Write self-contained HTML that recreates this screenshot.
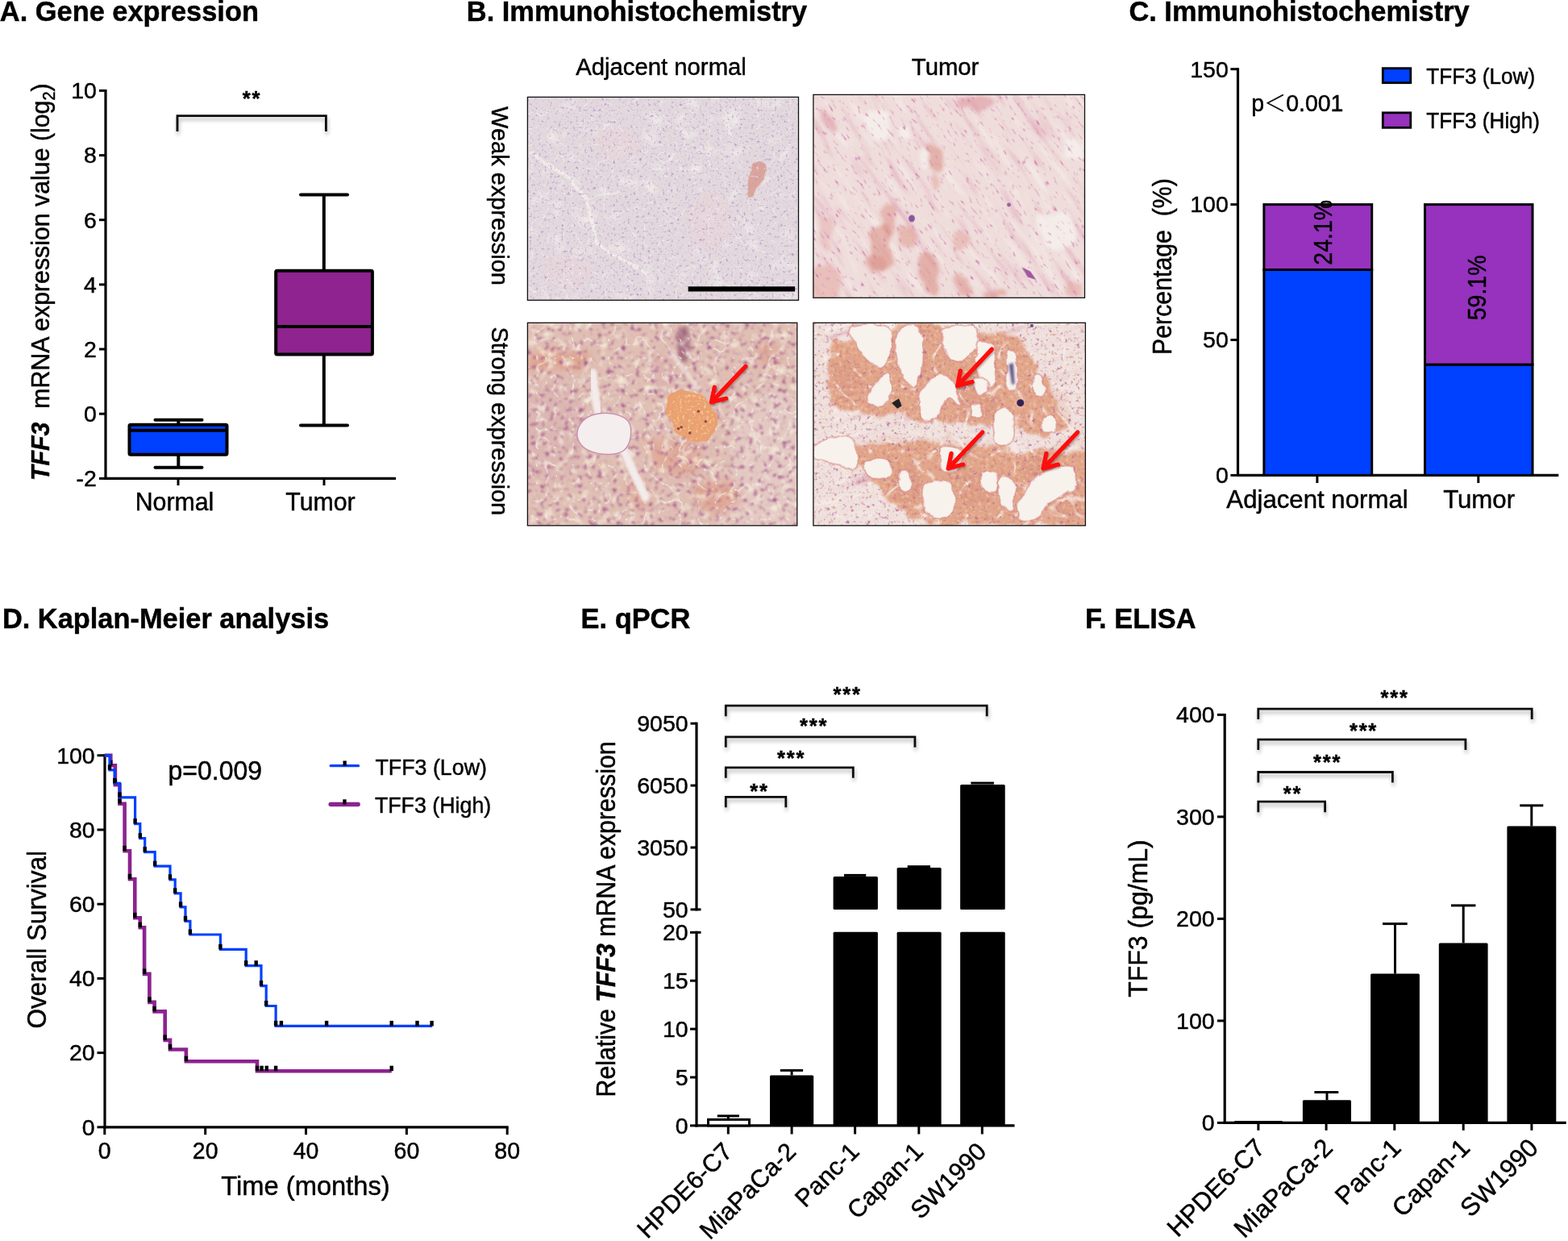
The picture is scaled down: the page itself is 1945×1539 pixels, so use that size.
<!DOCTYPE html>
<html><head><meta charset="utf-8"><title>TFF3 figure</title>
<style>
html,body{margin:0;padding:0;background:#fff;overflow:hidden;width:1945px;height:1539px;}
svg{display:block;}
text{font-family:'Liberation Sans', Arial, Helvetica, sans-serif;stroke:#000;stroke-width:0.45px;}
</style></head>
<body>
<svg width="1945" height="1539" viewBox="0 0 1945 1539">
<rect width="1945" height="1539" fill="#fff"/>
<defs>
<filter id="shadow" x="-5%" y="-50%" width="110%" height="250%"><feGaussianBlur in="SourceAlpha" stdDeviation="2.6"/><feOffset dx="0.5" dy="4" result="b"/><feComponentTransfer><feFuncA type="linear" slope="0.32"/></feComponentTransfer><feMerge><feMergeNode/><feMergeNode in="SourceGraphic"/></feMerge></filter>
<filter id="ashadow" x="-20%" y="-20%" width="140%" height="140%"><feGaussianBlur in="SourceAlpha" stdDeviation="1.2"/><feOffset dx="1" dy="2" result="b"/><feComponentTransfer><feFuncA type="linear" slope="0.3"/></feComponentTransfer><feMerge><feMergeNode/><feMergeNode in="SourceGraphic"/></feMerge></filter>
<filter id="blur1"><feGaussianBlur stdDeviation="1.5"/></filter>
<filter id="blur3" x="-50%" y="-50%" width="200%" height="200%"><feGaussianBlur stdDeviation="4"/></filter>
<filter id="zb4" x="-30%" y="-30%" width="160%" height="160%"><feGaussianBlur stdDeviation="4"/></filter>
<filter id="zb8" x="-30%" y="-30%" width="160%" height="160%"><feGaussianBlur stdDeviation="8"/></filter>
<filter id="zb10" x="-30%" y="-30%" width="160%" height="160%"><feGaussianBlur stdDeviation="10"/></filter>
<filter id="zb16" x="-30%" y="-30%" width="160%" height="160%"><feGaussianBlur stdDeviation="16"/></filter>
<filter id="zb30" x="-30%" y="-30%" width="160%" height="160%"><feGaussianBlur stdDeviation="30"/></filter>
<filter id="tex1" x="0" y="0" width="100%" height="100%" color-interpolation-filters="sRGB"><feTurbulence type="fractalNoise" baseFrequency="0.28" numOctaves="2" seed="3" result="n"/><feColorMatrix in="n" type="matrix" values="0 0 0 0 0.72  0 0 0 0 0.58  0 0 0 0 0.8  4.0 0 0 0 -2.45"/><feGaussianBlur stdDeviation="0.55"/></filter>
<filter id="tex1b" x="0" y="0" width="100%" height="100%" color-interpolation-filters="sRGB"><feTurbulence type="fractalNoise" baseFrequency="0.5" numOctaves="2" seed="21" result="n"/><feColorMatrix in="n" type="matrix" values="0 0 0 0 0.8  0 0 0 0 0.7  0 0 0 0 0.84  3.0 0 0 0 -1.75"/><feGaussianBlur stdDeviation="0.4"/></filter>
<filter id="lite1" x="0" y="0" width="100%" height="100%" color-interpolation-filters="sRGB"><feTurbulence type="fractalNoise" baseFrequency="0.05" numOctaves="2" seed="11" result="n"/><feColorMatrix in="n" type="matrix" values="0 0 0 0 0.95  0 0 0 0 0.94  0 0 0 0 0.92  3.0 0 0 0 -1.7"/><feGaussianBlur stdDeviation="1.5"/></filter>
<filter id="tex2" x="0" y="0" width="100%" height="100%" color-interpolation-filters="sRGB"><feTurbulence type="fractalNoise" baseFrequency="0.1 0.3" numOctaves="2" seed="5" result="n"/><feColorMatrix in="n" type="matrix" values="0 0 0 0 0.8  0 0 0 0 0.42  0 0 0 0 0.68  4.0 0 0 0 -2.6"/><feGaussianBlur stdDeviation="0.6"/></filter>
<filter id="tex3" x="0" y="0" width="100%" height="100%" color-interpolation-filters="sRGB"><feTurbulence type="fractalNoise" baseFrequency="0.17" numOctaves="2" seed="7" result="n"/><feColorMatrix in="n" type="matrix" values="0 0 0 0 0.66  0 0 0 0 0.36  0 0 0 0 0.56  4.6 0 0 0 -2.62"/><feGaussianBlur stdDeviation="0.8"/></filter>
<filter id="lite3" x="0" y="0" width="100%" height="100%" color-interpolation-filters="sRGB"><feTurbulence type="fractalNoise" baseFrequency="0.09" numOctaves="2" seed="13" result="n"/><feColorMatrix in="n" type="matrix" values="0 0 0 0 0.96  0 0 0 0 0.93  0 0 0 0 0.86  3.2 0 0 0 -1.7"/><feGaussianBlur stdDeviation="0.9"/></filter>
<filter id="tex4" x="0" y="0" width="100%" height="100%" color-interpolation-filters="sRGB"><feTurbulence type="fractalNoise" baseFrequency="0.2" numOctaves="2" seed="9" result="n"/><feColorMatrix in="n" type="matrix" values="0 0 0 0 0.72  0 0 0 0 0.42  0 0 0 0 0.62  4.0 0 0 0 -2.5"/><feGaussianBlur stdDeviation="0.6"/></filter>
<filter id="crack3" x="0" y="0" width="100%" height="100%" color-interpolation-filters="sRGB"><feTurbulence type="turbulence" baseFrequency="0.045" numOctaves="2" seed="61" result="n"/><feColorMatrix in="n" type="matrix" values="0 0 0 0 0.96  0 0 0 0 0.93  0 0 0 0 0.9  -9 0 0 0 0.9"/><feGaussianBlur stdDeviation="0.4"/></filter>
<filter id="crack1" x="0" y="0" width="100%" height="100%" color-interpolation-filters="sRGB"><feTurbulence type="turbulence" baseFrequency="0.05" numOctaves="2" seed="67" result="n"/><feColorMatrix in="n" type="matrix" values="0 0 0 0 0.95  0 0 0 0 0.94  0 0 0 0 0.93  -9 0 0 0 0.8"/><feGaussianBlur stdDeviation="0.4"/></filter>
<filter id="crack2" x="0" y="0" width="100%" height="100%" color-interpolation-filters="sRGB"><feTurbulence type="turbulence" baseFrequency="0.02 0.05" numOctaves="2" seed="71" result="n"/><feColorMatrix in="n" type="matrix" values="0 0 0 0 0.97  0 0 0 0 0.94  0 0 0 0 0.93  -8 0 0 0 0.8"/><feGaussianBlur stdDeviation="0.4"/></filter>
<filter id="crack4" x="0" y="0" width="100%" height="100%" color-interpolation-filters="sRGB"><feTurbulence type="turbulence" baseFrequency="0.025" numOctaves="2" seed="73" result="n"/><feColorMatrix in="n" type="matrix" values="0 0 0 0 0.97  0 0 0 0 0.93  0 0 0 0 0.9  -7 0 0 0 0.85"/><feGaussianBlur stdDeviation="0.6"/></filter>
<filter id="grain3" x="0" y="0" width="100%" height="100%" color-interpolation-filters="sRGB"><feTurbulence type="fractalNoise" baseFrequency="0.3" numOctaves="2" seed="17" result="n"/><feColorMatrix in="n" type="matrix" values="0 0 0 0 0.98  0 0 0 0 0.85  0 0 0 0 0.62  3.0 0 0 0 -1.6"/><feGaussianBlur stdDeviation="0.5"/></filter>
<filter id="grain4" x="0" y="0" width="100%" height="100%" color-interpolation-filters="sRGB"><feTurbulence type="fractalNoise" baseFrequency="0.22" numOctaves="2" seed="23" result="n"/><feColorMatrix in="n" type="matrix" values="0 0 0 0 0.95  0 0 0 0 0.82  0 0 0 0 0.72  2.4 0 0 0 -1.35" result="lt"/><feColorMatrix in="n" type="matrix" values="0 0 0 0 0.80  0 0 0 0 0.48  0 0 0 0 0.42  -2.4 0 0 0 0.95" result="dk"/><feMerge><feMergeNode in="dk"/><feMergeNode in="lt"/></feMerge></filter>
<filter id="fib2" x="0" y="0" width="100%" height="100%" color-interpolation-filters="sRGB"><feTurbulence type="fractalNoise" baseFrequency="0.015 0.09" numOctaves="2" seed="31" result="n"/><feColorMatrix in="n" type="matrix" values="0 0 0 0 0.87  0 0 0 0 0.62  0 0 0 0 0.70  1.8 0 0 0 -1.02" result="dk"/><feColorMatrix in="n" type="matrix" values="0 0 0 0 0.97  0 0 0 0 0.95  0 0 0 0 0.93  -2.2 0 0 0 0.95" result="lt"/><feMerge><feMergeNode in="dk"/><feMergeNode in="lt"/></feMerge></filter>
<filter id="fib4" x="0" y="0" width="100%" height="100%" color-interpolation-filters="sRGB"><feTurbulence type="fractalNoise" baseFrequency="0.01 0.1" numOctaves="2" seed="37" result="n"/><feColorMatrix in="n" type="matrix" values="0 0 0 0 0.85  0 0 0 0 0.62  0 0 0 0 0.70  3.0 0 0 0 -1.65" result="dk"/><feColorMatrix in="n" type="matrix" values="0 0 0 0 0.98  0 0 0 0 0.96  0 0 0 0 0.94  -3.0 0 0 0 1.3" result="lt"/><feMerge><feMergeNode in="dk"/><feMergeNode in="lt"/></feMerge></filter>
<filter id="org1" x="-10%" y="-10%" width="120%" height="120%" color-interpolation-filters="sRGB"><feTurbulence type="fractalNoise" baseFrequency="0.006" numOctaves="3" seed="41" result="t"/><feDisplacementMap in="SourceGraphic" in2="t" scale="60" xChannelSelector="R" yChannelSelector="G" result="d"/><feGaussianBlur in="d" stdDeviation="4"/></filter>
<filter id="org2" x="-10%" y="-10%" width="120%" height="120%" color-interpolation-filters="sRGB"><feTurbulence type="fractalNoise" baseFrequency="0.008" numOctaves="3" seed="43" result="t"/><feDisplacementMap in="SourceGraphic" in2="t" scale="90" xChannelSelector="R" yChannelSelector="G" result="d"/><feGaussianBlur in="d" stdDeviation="12"/></filter>
<filter id="org3" x="-10%" y="-10%" width="120%" height="120%" color-interpolation-filters="sRGB"><feTurbulence type="fractalNoise" baseFrequency="0.005" numOctaves="3" seed="47" result="t"/><feDisplacementMap in="SourceGraphic" in2="t" scale="120" xChannelSelector="R" yChannelSelector="G" result="d"/><feGaussianBlur in="d" stdDeviation="30"/></filter>
<filter id="org3b" x="-10%" y="-10%" width="120%" height="120%" color-interpolation-filters="sRGB"><feTurbulence type="fractalNoise" baseFrequency="0.01" numOctaves="3" seed="49" result="t"/><feDisplacementMap in="SourceGraphic" in2="t" scale="50" xChannelSelector="R" yChannelSelector="G" result="d"/><feGaussianBlur in="d" stdDeviation="4"/></filter>
<filter id="org4" x="-10%" y="-10%" width="120%" height="120%" color-interpolation-filters="sRGB"><feTurbulence type="fractalNoise" baseFrequency="0.007" numOctaves="3" seed="53" result="t"/><feDisplacementMap in="SourceGraphic" in2="t" scale="140" xChannelSelector="R" yChannelSelector="G" result="d"/><feGaussianBlur in="d" stdDeviation="10"/></filter>
<filter id="org4b" x="-10%" y="-10%" width="120%" height="120%" color-interpolation-filters="sRGB"><feTurbulence type="fractalNoise" baseFrequency="0.009" numOctaves="3" seed="59" result="t"/><feDisplacementMap in="SourceGraphic" in2="t" scale="60" xChannelSelector="R" yChannelSelector="G" result="d"/><feGaussianBlur in="d" stdDeviation="4"/></filter>
<clipPath id="clip_img1"><rect x="654.4" y="120.4" width="336.1" height="251.9"/></clipPath>
<clipPath id="clip_img2"><rect x="1008.9" y="117.4" width="336.6" height="251.9"/></clipPath>
<clipPath id="clip_img3"><rect x="654.4" y="400.3" width="334.4" height="251.49999999999994"/></clipPath>
<clipPath id="clip_img4"><rect x="1008.9" y="400.3" width="337.5000000000001" height="251.49999999999994"/></clipPath>
<clipPath id="clipblob3"><ellipse cx="858.5" cy="516" rx="30" ry="30" transform="rotate(30 858.5 516)"/></clipPath>
</defs>
<text x="-0.2" y="25.7" font-size="34.4" text-anchor="start" font-weight="bold" >A. Gene expression</text>
<line x1="131.0" y1="110.9" x2="131.0" y2="594.9" stroke="#000" stroke-width="3.2" stroke-linecap="butt" />
<line x1="129.5" y1="593.4" x2="491.0" y2="593.4" stroke="#000" stroke-width="3.2" stroke-linecap="butt" />
<line x1="123.0" y1="593.4" x2="131.0" y2="593.4" stroke="#000" stroke-width="3" stroke-linecap="butt" />
<text x="119.9" y="603.2" font-size="28.5" text-anchor="end" >-2</text>
<line x1="123.0" y1="513.2" x2="131.0" y2="513.2" stroke="#000" stroke-width="3" stroke-linecap="butt" />
<text x="119.9" y="523.0" font-size="28.5" text-anchor="end" >0</text>
<line x1="123.0" y1="433.0" x2="131.0" y2="433.0" stroke="#000" stroke-width="3" stroke-linecap="butt" />
<text x="119.9" y="442.9" font-size="28.5" text-anchor="end" >2</text>
<line x1="123.0" y1="352.9" x2="131.0" y2="352.9" stroke="#000" stroke-width="3" stroke-linecap="butt" />
<text x="119.9" y="362.7" font-size="28.5" text-anchor="end" >4</text>
<line x1="123.0" y1="272.7" x2="131.0" y2="272.7" stroke="#000" stroke-width="3" stroke-linecap="butt" />
<text x="119.9" y="282.6" font-size="28.5" text-anchor="end" >6</text>
<line x1="123.0" y1="192.6" x2="131.0" y2="192.6" stroke="#000" stroke-width="3" stroke-linecap="butt" />
<text x="119.9" y="202.4" font-size="28.5" text-anchor="end" >8</text>
<line x1="123.0" y1="112.4" x2="131.0" y2="112.4" stroke="#000" stroke-width="3" stroke-linecap="butt" />
<text x="119.9" y="122.2" font-size="28.5" text-anchor="end" >10</text>
<line x1="221.0" y1="593.4" x2="221.0" y2="602.0" stroke="#000" stroke-width="3" stroke-linecap="butt" />
<line x1="402.0" y1="593.4" x2="402.0" y2="602.0" stroke="#000" stroke-width="3" stroke-linecap="butt" />
<text transform="translate(216.5,632.8) scale(1,1.03)" font-size="30.3" text-anchor="middle" >Normal</text>
<text transform="translate(397.5,632.8) scale(1,1.03)" font-size="30.3" text-anchor="middle" >Tumor</text>
<text transform="translate(61.3,596.0) rotate(-90) scale(1,1.06)" font-size="30.3" ><tspan font-weight="bold" font-style="italic">TFF3</tspan><tspan xml:space="preserve">  mRNA expression value (log</tspan><tspan font-size="20" dy="6">2</tspan><tspan dy="-6">)</tspan></text>
<line x1="221.3" y1="520.8" x2="221.3" y2="526.8" stroke="#000" stroke-width="4" stroke-linecap="butt" />
<line x1="221.3" y1="563.7" x2="221.3" y2="579.8" stroke="#000" stroke-width="4" stroke-linecap="butt" />
<line x1="192.5" y1="520.8" x2="250.5" y2="520.8" stroke="#000" stroke-width="4" stroke-linecap="round" />
<line x1="192.5" y1="579.8" x2="250.5" y2="579.8" stroke="#000" stroke-width="4" stroke-linecap="round" />
<rect x="160.5" y="526.8" width="121.0" height="36.9" fill="#0040ff" stroke="#000" stroke-width="4" rx="1.5" stroke-linejoin="round"/>
<line x1="160.5" y1="533.7" x2="281.5" y2="533.7" stroke="#000" stroke-width="4" stroke-linecap="butt" />
<line x1="401.8" y1="241.4" x2="401.8" y2="335.8" stroke="#000" stroke-width="4" stroke-linecap="butt" />
<line x1="401.8" y1="439.4" x2="401.8" y2="527.4" stroke="#000" stroke-width="4" stroke-linecap="butt" />
<line x1="373.0" y1="241.4" x2="431.0" y2="241.4" stroke="#000" stroke-width="4" stroke-linecap="round" />
<line x1="373.0" y1="527.4" x2="431.0" y2="527.4" stroke="#000" stroke-width="4" stroke-linecap="round" />
<rect x="342.2" y="335.8" width="119.7" height="103.6" fill="#8f238f" stroke="#000" stroke-width="4" rx="1.5" stroke-linejoin="round"/>
<line x1="342.2" y1="405.0" x2="461.9" y2="405.0" stroke="#000" stroke-width="4" stroke-linecap="butt" />
<path d="M220,163 L220,143.6 L404.4,143.6 L404.4,163" stroke="#111" stroke-width="2.8" fill="none" filter="url(#shadow)"/>
<text x="312.6" y="130.8" font-size="25.5" text-anchor="middle" font-weight="bold" letter-spacing="1.8">**</text>
<text x="578.8" y="25.7" font-size="34.4" text-anchor="start" font-weight="bold" >B. Immunohistochemistry</text>
<text transform="translate(820.0,93.1) scale(1,1.03)" font-size="29.3" text-anchor="middle" >Adjacent normal</text>
<text transform="translate(1172.6,93.1) scale(1,1.03)" font-size="29.3" text-anchor="middle" >Tumor</text>
<text transform="translate(610,243) rotate(90)" font-size="29" text-anchor="middle">Weak expression</text>
<text transform="translate(610,522.3) rotate(90)" font-size="29" text-anchor="middle">Strong expression</text>
<g clip-path="url(#clip_img1)">
<rect x="654.4" y="120.4" width="336.1" height="251.9" fill="#e3d9dd"/>
<rect x="654.4" y="120.4" width="336.1" height="251.9" filter="url(#lite1)" />
<g transform="translate(650,115) scale(0.17737)"><g filter="url(#org1)"><path d="M40,420 C120,470 200,520 300,600 C360,650 410,690 440,760 C470,850 490,960 500,1050 C560,1110 640,1140 720,1180 C780,1210 830,1240 880,1270" stroke="#f2eeea" stroke-width="24" fill="none" opacity="0.9"/><path d="M440,760 C520,740 600,700 680,690" stroke="#f2eeea" stroke-width="16" fill="none" opacity="0.6"/><path d="M1090,250 C1110,290 1130,300 1140,320 M1400,180 C1420,230 1440,260 1460,330" stroke="#f2eeea" stroke-width="26" fill="none" opacity="0.7"/><ellipse cx="650" cy="350" rx="160" ry="120" fill="#e8d6d8" opacity="0.6"/><ellipse cx="1300" cy="900" rx="150" ry="200" fill="#e8d6d8" opacity="0.6"/><ellipse cx="300" cy="1250" rx="180" ry="120" fill="#e8d6d8" opacity="0.6"/><path d="M1600,500 C1612,487 1646,473 1660,480 C1674,487 1687,513 1685,540 C1683,567 1661,610 1650,640 C1639,670 1631,705 1620,720 C1609,735 1592,743 1585,730 C1578,717 1574,668 1575,640 C1576,612 1586,583 1590,560 C1594,537 1588,513 1600,500 Z" fill="#d99a8c" opacity="0.85"/></g></g>
<rect x="654.4" y="120.4" width="336.1" height="251.9" filter="url(#crack1)" />
<rect x="654.4" y="120.4" width="336.1" height="251.9" filter="url(#tex1)" />
<rect x="654.4" y="120.4" width="336.1" height="251.9" filter="url(#tex1b)" />
</g>
<rect x="654.4" y="120.4" width="336.1" height="251.9" fill="none" stroke="#111" stroke-width="1.3" />
<g clip-path="url(#clip_img2)">
<rect x="1008.9" y="117.4" width="336.6" height="251.9" fill="#efdddb"/>
<g transform="rotate(55 1177.2 243.35000000000002)"><rect x="917.2" y="-16.649999999999977" width="520" height="520" filter="url(#fib2)"/></g>
<g transform="translate(1005,113) scale(0.17737)"><g filter="url(#org2)"><path d="M400,170 C421,153 493,142 520,150 C547,158 560,190 560,220 C560,250 542,313 520,330 C498,347 451,333 430,320 C409,307 400,275 395,250 C390,225 379,187 400,170 Z" fill="#f5f0ec" opacity="0.85"/><path d="M620,260 C630,245 685,230 700,240 C715,250 720,305 710,320 C700,335 655,340 640,330 C625,320 610,275 620,260 Z" fill="#f5f0ec" opacity="0.85"/><path d="M1600,880 C1627,847 1758,840 1800,860 C1842,880 1857,960 1850,1000 C1843,1040 1795,1090 1760,1100 C1725,1110 1667,1097 1640,1060 C1613,1023 1573,913 1600,880 Z" fill="#f5f0ec" opacity="0.85"/><path d="M1790,350 C1807,337 1882,342 1900,360 C1918,378 1917,447 1900,460 C1883,473 1818,458 1800,440 C1782,422 1773,363 1790,350 Z" fill="#f5f0ec" opacity="0.85"/><path d="M760,420 C768,398 817,383 830,400 C843,417 848,498 840,520 C832,542 793,547 780,530 C767,513 752,442 760,420 Z" fill="#f5f0ec" opacity="0.85"/><path d="M500,820 C509,800 545,797 560,810 C575,823 587,868 590,900 C593,932 590,982 580,1000 C570,1018 542,1022 530,1010 C518,998 510,962 505,930 C500,898 491,840 500,820 Z" fill="#dc9488" opacity="0.55"/><path d="M440,960 C460,935 518,930 540,950 C562,970 567,1038 570,1080 C573,1122 572,1170 560,1200 C548,1230 520,1257 500,1260 C480,1263 453,1247 440,1220 C427,1193 420,1143 420,1100 C420,1057 420,985 440,960 Z" fill="#d98c80" opacity="0.55"/><path d="M620,950 C633,937 680,928 700,940 C720,952 737,997 740,1020 C743,1043 735,1070 720,1080 C705,1090 667,1090 650,1080 C633,1070 625,1042 620,1020 C615,998 607,963 620,950 Z" fill="#de9a8c" opacity="0.55"/><path d="M400,1170 C412,1152 480,1147 500,1160 C520,1173 532,1232 520,1250 C508,1268 450,1283 430,1270 C410,1257 388,1188 400,1170 Z" fill="#dc9488" opacity="0.55"/><path d="M770,1150 C785,1127 838,1138 860,1160 C882,1182 895,1237 900,1280 C905,1323 907,1397 890,1420 C873,1443 820,1440 800,1420 C780,1400 775,1345 770,1300 C765,1255 755,1173 770,1150 Z" fill="#d98c80" opacity="0.55"/><path d="M1000,990 C1007,973 1060,983 1080,1000 C1100,1017 1127,1073 1120,1090 C1113,1107 1060,1117 1040,1100 C1020,1083 993,1007 1000,990 Z" fill="#e2a49a" opacity="0.55"/><path d="M1020,1300 C1030,1282 1082,1290 1100,1310 C1118,1330 1140,1402 1130,1420 C1120,1438 1058,1440 1040,1420 C1022,1400 1010,1318 1020,1300 Z" fill="#dc9488" opacity="0.55"/><path d="M820,380 C832,368 882,370 900,400 C918,430 935,532 930,560 C925,588 887,585 870,570 C853,555 838,502 830,470 C822,438 808,392 820,380 Z" fill="#d98c80" opacity="0.55"/><path d="M850,600 C857,587 892,597 900,610 C908,623 907,667 900,680 C893,693 868,703 860,690 C852,677 843,613 850,600 Z" fill="#e2a49a" opacity="0.55"/><path d="M60,130 C67,123 100,138 120,160 C140,182 177,242 180,260 C183,278 157,280 140,270 C123,260 93,223 80,200 C67,177 53,137 60,130 Z" fill="#dc8f9a" opacity="0.55"/><path d="M1020,40 C1058,33 1210,38 1250,50 C1290,62 1285,98 1260,110 C1235,122 1140,123 1100,120 C1060,117 1033,103 1020,90 C1007,77 982,47 1020,40 Z" fill="#dc8f9a" opacity="0.55"/><path d="M1230,1390 C1250,1383 1328,1392 1350,1400 C1372,1408 1380,1433 1360,1440 C1340,1447 1252,1448 1230,1440 C1208,1432 1210,1397 1230,1390 Z" fill="#dc9488" opacity="0.55"/><path d="M20,1230 C47,1198 150,1215 180,1250 C210,1285 227,1408 200,1440 C173,1472 50,1475 20,1440 C-10,1405 -7,1262 20,1230 Z" fill="#e3a6a0" opacity="0.55"/><path d="M60,880 C72,850 125,863 140,900 C155,937 162,1070 150,1100 C138,1130 85,1117 70,1080 C55,1043 48,910 60,880 Z" fill="#e6b0b0" opacity="0.55"/><path d="M1800,1330 C1817,1313 1883,1322 1900,1340 C1917,1358 1917,1423 1900,1440 C1883,1457 1817,1458 1800,1440 C1783,1422 1783,1347 1800,1330 Z" fill="#e3a6a0" opacity="0.55"/></g><ellipse cx="710" cy="890" rx="22" ry="25" fill="#7a4a9a" opacity="0.9" filter="url(#zb4)"/><path d="M1480,1230 L1540,1260 L1580,1320 L1520,1300 Z" fill="#9a4a9a" opacity="0.9" filter="url(#zb4)"/><ellipse cx="1390" cy="795" rx="14" ry="14" fill="#7a4a9a" opacity="0.8" filter="url(#zb4)"/></g>
<g transform="rotate(55 1177.2 243.35000000000002)"><rect x="917.2" y="-16.649999999999977" width="520" height="520" filter="url(#tex2)"/></g>
</g>
<rect x="1008.9" y="117.4" width="336.6" height="251.9" fill="none" stroke="#111" stroke-width="1.3" />
<g clip-path="url(#clip_img3)">
<rect x="654.4" y="400.3" width="334.4" height="251.49999999999994" fill="#e0bfb4"/>
<g transform="translate(650,395) scale(0.17737)"><g filter="url(#org3)"><path d="M1500,600 C1578,527 1850,420 1920,560 C1990,700 1990,1293 1920,1440 C1850,1587 1578,1513 1500,1440 C1422,1367 1450,1140 1450,1000 C1450,860 1422,673 1500,600 Z" fill="#e6d0cc" opacity="0.6"/><path d="M30,240 C75,217 230,220 300,220 C370,220 427,220 450,240 C473,260 482,322 440,340 C398,358 268,347 200,350 C132,353 58,378 30,360 C2,342 -15,263 30,240 Z" fill="#dea08a" opacity="0.85"/><path d="M850,860 C898,838 1083,835 1150,850 C1217,865 1242,915 1250,950 C1258,985 1250,1043 1200,1060 C1150,1077 1007,1063 950,1050 C893,1037 877,1012 860,980 C843,948 802,882 850,860 Z" fill="#dfa48e" opacity="0.7"/><path d="M1200,1150 C1242,1137 1400,1145 1450,1170 C1500,1195 1525,1272 1500,1300 C1475,1328 1350,1348 1300,1340 C1250,1332 1217,1282 1200,1250 C1183,1218 1158,1163 1200,1150 Z" fill="#dea08c" opacity="0.8"/><path d="M700,1180 C715,1150 817,1130 850,1150 C883,1170 915,1270 900,1300 C885,1330 793,1350 760,1330 C727,1310 685,1210 700,1180 Z" fill="#e0a894" opacity="0.6"/><path d="M1620,180 C1638,150 1733,137 1760,160 C1787,183 1798,290 1780,320 C1762,350 1677,363 1650,340 C1623,317 1602,210 1620,180 Z" fill="#dca490" opacity="0.7"/><path d="M30,500 C83,397 292,397 350,480 C408,563 433,897 380,1000 C327,1103 88,1183 30,1100 C-28,1017 -23,603 30,500 Z" fill="#d8b0b0" opacity="0.5"/><path d="M900,300 C908,267 975,255 1000,280 C1025,305 1058,417 1050,450 C1042,483 975,505 950,480 C925,455 892,333 900,300 Z" fill="#d8a8a8" opacity="0.5"/></g><path d="M1080,80 C1092,60 1127,40 1140,60 C1153,80 1160,160 1160,200 C1160,240 1152,285 1140,300 C1128,315 1102,310 1090,290 C1078,270 1072,215 1070,180 C1068,145 1068,100 1080,80 Z" fill="#8a4a6a" opacity="0.65" filter="url(#zb16)"/></g>
<rect x="654.4" y="400.3" width="334.4" height="251.49999999999994" filter="url(#lite3)" />
<rect x="654.4" y="400.3" width="334.4" height="251.49999999999994" filter="url(#crack3)" />
<rect x="654.4" y="400.3" width="334.4" height="251.49999999999994" filter="url(#tex3)" />
<g transform="translate(650,395) scale(0.17737)"><path d="M480,380 C490,480 500,560 520,660" stroke="#f3ecea" stroke-width="58" fill="none" stroke-linecap="round" filter="url(#zb8)"/><path d="M700,930 C740,1020 790,1130 850,1250" stroke="#f3ecea" stroke-width="58" fill="none" stroke-linecap="round" filter="url(#zb8)"/><path d="M1030,240 C1100,330 1160,420 1220,480" stroke="#eee0da" stroke-width="30" fill="none" stroke-linecap="round" opacity="0.8" filter="url(#zb10)"/><path d="M375,780 C382,752 406,719 430,700 C454,681 485,670 520,665 C555,660 605,661 640,670 C675,679 712,693 730,720 C748,747 750,797 745,830 C740,863 724,900 700,920 C676,940 638,948 600,950 C562,952 505,943 470,930 C435,917 406,895 390,870 C374,845 368,808 375,780 Z" fill="#f4eeee" stroke="#c88fb0" stroke-width="8"/><g filter="url(#org3b)"><path d="M1000,560 C1008,535 1028,520 1050,510 C1072,500 1100,495 1130,500 C1160,505 1202,523 1230,540 C1258,557 1280,577 1300,600 C1320,623 1342,650 1350,680 C1358,710 1355,752 1345,780 C1335,808 1314,836 1290,850 C1266,864 1232,865 1200,862 C1168,859 1127,847 1100,830 C1073,813 1056,788 1040,760 C1024,732 1012,693 1005,660 C998,627 992,585 1000,560 Z" fill="#eaa070" /></g></g>
<g clip-path="url(#clipblob3)"><rect x="654.4" y="400.3" width="334.4" height="251.49999999999994" filter="url(#grain3)" /></g>
<g transform="translate(650,395) scale(0.17737)"><circle cx="1100" cy="760" r="10" fill="#702838" opacity="0.75"/><circle cx="1160" cy="800" r="10" fill="#702838" opacity="0.75"/><circle cx="1270" cy="720" r="10" fill="#702838" opacity="0.75"/><circle cx="1220" cy="650" r="10" fill="#702838" opacity="0.75"/><circle cx="1080" cy="770" r="10" fill="#702838" opacity="0.75"/></g>
</g>
<rect x="654.4" y="400.3" width="334.4" height="251.5" fill="none" stroke="#111" stroke-width="1.3" />
<g clip-path="url(#clip_img4)">
<rect x="1008.9" y="400.3" width="337.5000000000001" height="251.49999999999994" fill="#f0e2e0"/>
<g transform="rotate(-20 1177.65 526.05)"><rect x="937.6500000000001" y="286.04999999999995" width="480" height="480" filter="url(#fib4)"/></g>
<g transform="translate(1005,395) scale(0.17737)"><g filter="url(#org4)"><path d="M130,190 C162,152 243,153 300,150 C357,147 420,185 470,170 C520,155 545,80 600,60 C655,40 733,48 800,50 C867,52 933,57 1000,70 C1067,83 1133,125 1200,130 C1267,135 1342,80 1400,100 C1458,120 1513,197 1550,250 C1587,303 1582,375 1620,420 C1658,465 1742,482 1780,520 C1818,558 1847,607 1850,650 C1853,693 1838,755 1800,780 C1762,805 1678,803 1620,800 C1562,797 1512,767 1450,760 C1388,753 1317,763 1250,760 C1183,757 1117,747 1050,740 C983,733 917,730 850,720 C783,710 717,690 650,680 C583,670 517,667 450,660 C383,653 303,657 250,640 C197,623 153,603 130,560 C107,517 110,442 110,380 C110,318 98,228 130,190 Z" fill="#e2a68a" /><path d="M330,880 C367,858 455,835 520,830 C585,825 648,852 720,850 C792,848 878,818 950,820 C1022,822 1083,850 1150,860 C1217,870 1292,865 1350,880 C1408,895 1450,947 1500,950 C1550,953 1580,912 1650,900 C1720,888 1875,790 1920,880 C1965,970 1973,1347 1920,1440 C1867,1533 1703,1440 1600,1440 C1497,1440 1400,1440 1300,1440 C1200,1440 1092,1443 1000,1440 C908,1437 817,1438 750,1420 C683,1402 642,1367 600,1330 C558,1293 537,1242 500,1200 C463,1158 413,1120 380,1080 C347,1040 308,993 300,960 C292,927 293,902 330,880 Z" fill="#e2a68a" /><path d="M150,940 C167,920 248,910 280,920 C312,930 337,977 340,1000 C343,1023 327,1053 300,1060 C273,1067 205,1060 180,1040 C155,1020 133,960 150,940 Z" fill="#e2a68a" opacity="0.9"/><path d="M180,300 C205,268 292,255 320,280 C348,305 362,403 350,450 C338,497 280,557 250,560 C220,563 182,513 170,470 C158,427 155,332 180,300 Z" fill="#d99680" opacity="0.45"/><path d="M640,90 C650,45 730,62 760,80 C790,98 817,147 820,200 C823,253 800,375 780,400 C760,425 723,402 700,350 C677,298 630,135 640,90 Z" fill="#d99680" opacity="0.45"/><path d="M1000,500 C1012,462 1100,442 1150,450 C1200,458 1283,508 1300,550 C1317,592 1287,678 1250,700 C1213,722 1122,713 1080,680 C1038,647 988,538 1000,500 Z" fill="#d99680" opacity="0.45"/><path d="M560,1050 C577,1008 663,983 700,1000 C737,1017 780,1100 780,1150 C780,1200 730,1283 700,1300 C670,1317 623,1292 600,1250 C577,1208 543,1092 560,1050 Z" fill="#d99680" opacity="0.45"/><path d="M1500,1000 C1515,972 1617,963 1650,980 C1683,997 1715,1072 1700,1100 C1685,1128 1593,1167 1560,1150 C1527,1133 1485,1028 1500,1000 Z" fill="#d99680" opacity="0.45"/><path d="M1650,1200 C1675,1163 1812,1150 1850,1180 C1888,1210 1905,1343 1880,1380 C1855,1417 1738,1430 1700,1400 C1662,1370 1625,1237 1650,1200 Z" fill="#d99680" opacity="0.45"/><path d="M1050,1100 C1067,1063 1167,1055 1200,1080 C1233,1105 1267,1213 1250,1250 C1233,1287 1133,1325 1100,1300 C1067,1275 1033,1137 1050,1100 Z" fill="#d99680" opacity="0.45"/><path d="M0,1100 C50,1047 220,1095 300,1120 C380,1145 422,1197 480,1250 C538,1303 730,1408 650,1440 C570,1472 108,1497 0,1440 C-108,1383 -50,1153 0,1100 Z" fill="#efe2e0" opacity="0.8"/><path d="M1530,30 C1597,10 1855,-112 1920,30 C1985,172 1930,748 1920,880 C1910,1012 1887,860 1860,820 C1833,780 1793,698 1760,640 C1727,582 1690,522 1660,470 C1630,418 1603,383 1580,330 C1557,277 1528,200 1520,150 C1512,100 1463,50 1530,30 Z" fill="#efe2e0" opacity="0.8"/><path d="M0,30 C20,-148 100,-148 120,30 C140,208 140,922 120,1100 C100,1278 20,1278 0,1100 C-20,922 -20,208 0,30 Z" fill="#efe2e0" opacity="0.8"/><path d="M0,690 C83,673 350,688 500,700 C650,712 767,743 900,760 C1033,777 1183,790 1300,800 C1417,810 1497,810 1600,820 C1703,830 1867,840 1920,860 C1973,880 1990,933 1920,940 C1850,947 1637,910 1500,900 C1363,890 1233,885 1100,880 C967,875 817,870 700,870 C583,870 492,887 400,880 C308,873 217,843 150,830 C83,817 25,823 0,800 C-25,777 -83,707 0,690 Z" fill="#efe2e0" opacity="0.8"/></g></g>
<rect x="1008.9" y="400.3" width="337.5000000000001" height="251.49999999999994" filter="url(#grain4)" />
<rect x="1008.9" y="400.3" width="337.5000000000001" height="251.49999999999994" filter="url(#crack4)" />
<rect x="1008.9" y="400.3" width="337.5000000000001" height="251.49999999999994" filter="url(#tex4)" />
<g transform="translate(1005,395) scale(0.17737)"><g filter="url(#org4b)"><path d="M290,60 C325,35 493,27 540,50 C587,73 577,153 570,200 C563,247 525,313 500,330 C475,347 448,322 420,300 C392,278 352,240 330,200 C308,160 255,85 290,60 Z" fill="#f7f2ec" stroke="#d88a8a" stroke-width="12" stroke-opacity="0.55"/><path d="M400,560 C408,528 447,448 470,420 C493,392 523,377 540,390 C557,403 573,465 570,500 C567,535 545,582 520,600 C495,618 440,617 420,610 C400,603 392,592 400,560 Z" fill="#f7f2ec" stroke="#d88a8a" stroke-width="12" stroke-opacity="0.55"/><path d="M620,80 C647,48 732,23 760,60 C788,97 797,230 790,300 C783,370 742,460 720,480 C698,500 680,458 660,420 C640,382 607,307 600,250 C593,193 593,112 620,80 Z" fill="#f7f2ec" stroke="#d88a8a" stroke-width="12" stroke-opacity="0.55"/><path d="M770,520 C787,470 842,413 880,400 C918,387 972,407 1000,440 C1028,473 1058,580 1050,600 C1042,620 978,543 950,560 C922,577 908,677 880,700 C852,723 798,730 780,700 C762,670 753,570 770,520 Z" fill="#f7f2ec" stroke="#d88a8a" stroke-width="12" stroke-opacity="0.55"/><path d="M920,60 C953,28 1108,37 1150,60 C1192,83 1187,162 1170,200 C1153,238 1087,282 1050,290 C1013,298 972,288 950,250 C928,212 887,92 920,60 Z" fill="#f7f2ec" stroke="#d88a8a" stroke-width="12" stroke-opacity="0.55"/><path d="M1170,170 C1188,140 1260,158 1280,200 C1300,242 1300,372 1290,420 C1280,468 1240,497 1220,490 C1200,483 1178,433 1170,380 C1162,327 1152,200 1170,170 Z" fill="#f7f2ec" stroke="#d88a8a" stroke-width="12" stroke-opacity="0.55"/><path d="M1370,250 C1377,207 1417,202 1430,240 C1443,278 1457,437 1450,480 C1443,523 1403,538 1390,500 C1377,462 1363,293 1370,250 Z" fill="#f7f2ec" stroke="#d88a8a" stroke-width="12" stroke-opacity="0.55"/><path d="M1150,430 C1162,415 1215,417 1230,430 C1245,443 1252,495 1240,510 C1228,525 1175,533 1160,520 C1145,507 1138,445 1150,430 Z" fill="#f7f2ec" stroke="#d88a8a" stroke-width="12" stroke-opacity="0.55"/><path d="M1130,600 C1138,587 1178,587 1190,600 C1202,613 1208,667 1200,680 C1192,693 1152,693 1140,680 C1128,667 1122,613 1130,600 Z" fill="#f7f2ec" stroke="#d88a8a" stroke-width="12" stroke-opacity="0.55"/><path d="M1280,660 C1297,623 1377,618 1400,650 C1423,682 1437,813 1420,850 C1403,887 1323,902 1300,870 C1277,838 1263,697 1280,660 Z" fill="#f7f2ec" stroke="#d88a8a" stroke-width="12" stroke-opacity="0.55"/><path d="M1620,700 C1632,683 1685,677 1700,690 C1715,703 1722,763 1710,780 C1698,797 1645,803 1630,790 C1615,777 1608,717 1620,700 Z" fill="#f7f2ec" stroke="#d88a8a" stroke-width="12" stroke-opacity="0.55"/><path d="M40,870 C75,843 202,817 250,830 C298,843 322,912 330,950 C338,988 330,1052 300,1060 C270,1068 193,1012 150,1000 C107,988 58,1012 40,990 C22,968 5,897 40,870 Z" fill="#f7f2ec" stroke="#d88a8a" stroke-width="12" stroke-opacity="0.55"/><path d="M400,990 C420,972 513,982 540,1000 C567,1018 580,1082 560,1100 C540,1118 447,1128 420,1110 C393,1092 380,1008 400,990 Z" fill="#f7f2ec" stroke="#d88a8a" stroke-width="12" stroke-opacity="0.55"/><path d="M800,1160 C830,1125 947,1108 980,1140 C1013,1172 1013,1307 1000,1350 C987,1393 933,1400 900,1400 C867,1400 817,1390 800,1350 C783,1310 770,1195 800,1160 Z" fill="#f7f2ec" stroke="#d88a8a" stroke-width="12" stroke-opacity="0.55"/><path d="M920,900 C940,880 1030,903 1050,930 C1070,957 1060,1040 1040,1060 C1020,1080 950,1077 930,1050 C910,1023 900,920 920,900 Z" fill="#f7f2ec" stroke="#d88a8a" stroke-width="12" stroke-opacity="0.55"/><path d="M1320,1120 C1335,1092 1403,1097 1420,1130 C1437,1163 1435,1292 1420,1320 C1405,1348 1347,1333 1330,1300 C1313,1267 1305,1148 1320,1120 Z" fill="#f7f2ec" stroke="#d88a8a" stroke-width="12" stroke-opacity="0.55"/><path d="M1600,1080 C1658,1047 1788,1030 1830,1050 C1872,1070 1872,1167 1850,1200 C1828,1233 1742,1217 1700,1250 C1658,1283 1642,1375 1600,1400 C1558,1425 1470,1425 1450,1400 C1430,1375 1455,1303 1480,1250 C1505,1197 1542,1113 1600,1080 Z" fill="#f7f2ec" stroke="#d88a8a" stroke-width="12" stroke-opacity="0.55"/><path d="M1200,1080 C1215,1063 1285,1070 1300,1090 C1315,1110 1305,1183 1290,1200 C1275,1217 1225,1210 1210,1190 C1195,1170 1185,1097 1200,1080 Z" fill="#f7f2ec" stroke="#d88a8a" stroke-width="12" stroke-opacity="0.55"/><path d="M620,1080 C632,1063 687,1070 700,1090 C713,1110 712,1183 700,1200 C688,1217 643,1210 630,1190 C617,1170 608,1097 620,1080 Z" fill="#f7f2ec" stroke="#d88a8a" stroke-width="12" stroke-opacity="0.55"/><path d="M1560,420 C1567,398 1607,393 1620,410 C1633,427 1647,498 1640,520 C1633,542 1593,557 1580,540 C1567,523 1553,442 1560,420 Z" fill="#f7f2ec" stroke="#d88a8a" stroke-width="12" stroke-opacity="0.55"/></g><path d="M570,590 L620,560 L640,610 L610,630 Z" fill="#222" filter="url(#zb4)"/><ellipse cx="1470" cy="590" rx="25" ry="25" fill="#332255" filter="url(#zb4)"/><path d="M1390,320 L1420,310 L1430,460 L1410,460 Z" fill="#3a2a70" opacity="0.8" filter="url(#zb8)"/><path d="M1540,40 L1560,40 L1560,60 L1540,60 Z" fill="#3a2a70" opacity="0.8"/></g>
</g>
<rect x="1008.9" y="400.3" width="337.5" height="251.5" fill="none" stroke="#111" stroke-width="1.3" />
<rect x="853.6" y="355.3" width="132.5" height="6.2" fill="#000" />
<path d="M924.9,454.4 L882.4,498.8 M886.3,480.2 L882.4,498.8 L900.8,494.1" stroke="#ff0808" stroke-width="5.2" fill="none" stroke-linecap="round" stroke-linejoin="round" filter="url(#ashadow)"/>
<path d="M1230.3,433.1 L1187.7,478.4 M1191.4,459.8 L1187.7,478.4 L1206.1,473.6" stroke="#ff0808" stroke-width="5.2" fill="none" stroke-linecap="round" stroke-linejoin="round" filter="url(#ashadow)"/>
<path d="M1218.7,536.0 L1176.2,580.9 M1180.0,562.3 L1176.2,580.9 L1194.6,576.1" stroke="#ff0808" stroke-width="5.2" fill="none" stroke-linecap="round" stroke-linejoin="round" filter="url(#ashadow)"/>
<path d="M1336.7,536.0 L1294.1,580.9 M1297.9,562.3 L1294.1,580.9 L1312.5,576.1" stroke="#ff0808" stroke-width="5.2" fill="none" stroke-linecap="round" stroke-linejoin="round" filter="url(#ashadow)"/>
<text x="1400.4" y="25.7" font-size="34.4" text-anchor="start" font-weight="bold" >C. Immunohistochemistry</text>
<line x1="1535.5" y1="84.2" x2="1535.5" y2="590.9" stroke="#000" stroke-width="3.2" stroke-linecap="butt" />
<line x1="1534.0" y1="589.4" x2="1933.3" y2="589.4" stroke="#000" stroke-width="3.2" stroke-linecap="butt" />
<line x1="1526.4" y1="589.4" x2="1535.5" y2="589.4" stroke="#000" stroke-width="3" stroke-linecap="butt" />
<text x="1523.8" y="599.2" font-size="28.5" text-anchor="end" >0</text>
<line x1="1526.4" y1="421.5" x2="1535.5" y2="421.5" stroke="#000" stroke-width="3" stroke-linecap="butt" />
<text x="1523.8" y="431.3" font-size="28.5" text-anchor="end" >50</text>
<line x1="1526.4" y1="253.6" x2="1535.5" y2="253.6" stroke="#000" stroke-width="3" stroke-linecap="butt" />
<text x="1523.8" y="263.4" font-size="28.5" text-anchor="end" >100</text>
<line x1="1526.4" y1="85.7" x2="1535.5" y2="85.7" stroke="#000" stroke-width="3" stroke-linecap="butt" />
<text x="1523.8" y="95.5" font-size="28.5" text-anchor="end" >150</text>
<line x1="1633.9" y1="589.4" x2="1633.9" y2="599.0" stroke="#000" stroke-width="3" stroke-linecap="butt" />
<line x1="1833.8" y1="589.4" x2="1833.8" y2="599.0" stroke="#000" stroke-width="3" stroke-linecap="butt" />
<text transform="translate(1634.0,629.5) scale(1,1.03)" font-size="31.2" text-anchor="middle" >Adjacent normal</text>
<text transform="translate(1834.6,629.5) scale(1,1.03)" font-size="31.2" text-anchor="middle" >Tumor</text>
<text transform="translate(1452.6,440.0) rotate(-90) scale(1,1.1)" font-size="30.3" xml:space="preserve">Percentage  (%)</text>
<rect x="1567.9" y="334.5" width="133.8" height="254.9" fill="#0040ff" stroke="#000" stroke-width="3" />
<rect x="1567.9" y="253.6" width="133.8" height="80.9" fill="#9632be" stroke="#000" stroke-width="3" />
<rect x="1767.5" y="452.1" width="133.5" height="137.3" fill="#0040ff" stroke="#000" stroke-width="3" />
<rect x="1767.5" y="253.6" width="133.5" height="198.5" fill="#9632be" stroke="#000" stroke-width="3" />
<text transform="translate(1651.5,328.7) rotate(-90) scale(1,1.1)" font-size="28.5">24.1%</text>
<text transform="translate(1843,397.3) rotate(-90) scale(1,1.1)" font-size="28.5">59.1%</text>
<rect x="1715.3" y="84.7" width="34.5" height="18.0" fill="#0040ff" stroke="#000" stroke-width="2.8" />
<rect x="1715.3" y="139.8" width="34.5" height="18.5" fill="#9632be" stroke="#000" stroke-width="2.8" />
<text transform="translate(1769.3,103.6) scale(1,1.03)" font-size="26.1" text-anchor="start" >TFF3 (Low)</text>
<text transform="translate(1769.3,158.8) scale(1,1.03)" font-size="26.1" text-anchor="start" >TFF3 (High)</text>
<text transform="translate(1552.3,138.4) scale(1,1.03)" font-size="28.5" text-anchor="start" >p<tspan font-family="'Noto Sans CJK JP', sans-serif" font-weight="300" font-size="27" style="stroke-width:0.3px">＜</tspan>0.001</text>
<text x="2.9" y="779.0" font-size="34.4" text-anchor="start" font-weight="bold" >D. Kaplan-Meier analysis</text>
<line x1="130.0" y1="935.3" x2="130.0" y2="1399.3" stroke="#000" stroke-width="3.2" stroke-linecap="butt" />
<line x1="128.5" y1="1397.8" x2="630.7" y2="1397.8" stroke="#000" stroke-width="3.2" stroke-linecap="butt" />
<line x1="120.5" y1="1397.8" x2="130.0" y2="1397.8" stroke="#000" stroke-width="3" stroke-linecap="butt" />
<text x="117.7" y="1407.6" font-size="28.5" text-anchor="end" >0</text>
<line x1="120.5" y1="1305.6" x2="130.0" y2="1305.6" stroke="#000" stroke-width="3" stroke-linecap="butt" />
<text x="117.7" y="1315.4" font-size="28.5" text-anchor="end" >20</text>
<line x1="120.5" y1="1213.4" x2="130.0" y2="1213.4" stroke="#000" stroke-width="3" stroke-linecap="butt" />
<text x="117.7" y="1223.2" font-size="28.5" text-anchor="end" >40</text>
<line x1="120.5" y1="1121.2" x2="130.0" y2="1121.2" stroke="#000" stroke-width="3" stroke-linecap="butt" />
<text x="117.7" y="1131.0" font-size="28.5" text-anchor="end" >60</text>
<line x1="120.5" y1="1029.0" x2="130.0" y2="1029.0" stroke="#000" stroke-width="3" stroke-linecap="butt" />
<text x="117.7" y="1038.8" font-size="28.5" text-anchor="end" >80</text>
<line x1="120.5" y1="936.8" x2="130.0" y2="936.8" stroke="#000" stroke-width="3" stroke-linecap="butt" />
<text x="117.7" y="946.6" font-size="28.5" text-anchor="end" >100</text>
<line x1="129.8" y1="1397.8" x2="129.8" y2="1407.2" stroke="#000" stroke-width="3" stroke-linecap="butt" />
<text transform="translate(129.8,1437.3) scale(1,1.03)" font-size="28.5" text-anchor="middle" >0</text>
<line x1="254.7" y1="1397.8" x2="254.7" y2="1407.2" stroke="#000" stroke-width="3" stroke-linecap="butt" />
<text transform="translate(254.7,1437.3) scale(1,1.03)" font-size="28.5" text-anchor="middle" >20</text>
<line x1="379.5" y1="1397.8" x2="379.5" y2="1407.2" stroke="#000" stroke-width="3" stroke-linecap="butt" />
<text transform="translate(379.5,1437.3) scale(1,1.03)" font-size="28.5" text-anchor="middle" >40</text>
<line x1="504.4" y1="1397.8" x2="504.4" y2="1407.2" stroke="#000" stroke-width="3" stroke-linecap="butt" />
<text transform="translate(504.4,1437.3) scale(1,1.03)" font-size="28.5" text-anchor="middle" >60</text>
<line x1="629.2" y1="1397.8" x2="629.2" y2="1407.2" stroke="#000" stroke-width="3" stroke-linecap="butt" />
<text transform="translate(629.2,1437.3) scale(1,1.03)" font-size="28.5" text-anchor="middle" >80</text>
<text transform="translate(379.0,1482.0) scale(1,1.03)" font-size="32.7" text-anchor="middle" >Time (months)</text>
<text transform="translate(56.6,1275.4) rotate(-90) scale(1,1.06)" font-size="31.5" >Overall Survival</text>
<text transform="translate(208.5,967.4) scale(1,1.03)" font-size="32" text-anchor="start" >p=0.009</text>
<path d="M129.8,936.8 H137.3 V949.2 H142.9 V973.2 H148.5 V996.7 H154.6 V1055.3 H161.0 V1090.3 H167.3 V1138.3 H173.8 V1150.2 H179.1 V1207.9 H185.4 V1242.9 H191.6 V1254.4 H204.7 V1289.9 H211.0 V1301.5 H230.9 V1316.2 H319.0 V1328.2 H485.7" stroke="#8c2390" stroke-width="4.6" fill="none" stroke-linejoin="miter"/>
<rect x="135.1" y="942.7" width="4.4" height="6.5" fill="#000" />
<rect x="140.7" y="966.7" width="4.4" height="6.5" fill="#000" />
<rect x="146.3" y="990.2" width="4.4" height="6.5" fill="#000" />
<rect x="152.4" y="1048.8" width="4.4" height="6.5" fill="#000" />
<rect x="158.8" y="1083.8" width="4.4" height="6.5" fill="#000" />
<rect x="165.1" y="1131.8" width="4.4" height="6.5" fill="#000" />
<rect x="171.6" y="1143.7" width="4.4" height="6.5" fill="#000" />
<rect x="176.9" y="1201.4" width="4.4" height="6.5" fill="#000" />
<rect x="183.2" y="1236.4" width="4.4" height="6.5" fill="#000" />
<rect x="189.4" y="1247.9" width="4.4" height="6.5" fill="#000" />
<rect x="202.5" y="1283.4" width="4.4" height="6.5" fill="#000" />
<rect x="208.8" y="1295.0" width="4.4" height="6.5" fill="#000" />
<rect x="228.7" y="1309.7" width="4.4" height="6.5" fill="#000" />
<rect x="316.8" y="1321.7" width="4.4" height="6.5" fill="#000" />
<rect x="322.4" y="1321.7" width="4.4" height="6.5" fill="#000" />
<rect x="328.6" y="1321.7" width="4.4" height="6.5" fill="#000" />
<rect x="339.9" y="1321.7" width="4.4" height="6.5" fill="#000" />
<rect x="483.5" y="1321.7" width="4.4" height="6.5" fill="#000" />
<path d="M129.8,936.8 H136.0 V954.8 H142.3 V971.4 H148.5 V988.9 H167.6 V1021.6 H173.8 V1039.6 H179.7 V1056.7 H192.2 V1074.2 H211.0 V1090.8 H217.2 V1107.8 H224.1 V1124.9 H230.0 V1142.4 H235.9 V1159.0 H273.4 V1177.4 H305.2 V1197.7 H324.0 V1222.6 H330.2 V1247.5 H342.1 V1272.4 H536.2" stroke="#0040ff" stroke-width="3.2" fill="none" stroke-linejoin="miter"/>
<rect x="133.8" y="948.3" width="4.4" height="6.5" fill="#000" />
<rect x="140.1" y="964.9" width="4.4" height="6.5" fill="#000" />
<rect x="146.3" y="982.4" width="4.4" height="6.5" fill="#000" />
<rect x="165.4" y="1015.1" width="4.4" height="6.5" fill="#000" />
<rect x="171.6" y="1033.1" width="4.4" height="6.5" fill="#000" />
<rect x="177.5" y="1050.2" width="4.4" height="6.5" fill="#000" />
<rect x="190.0" y="1067.7" width="4.4" height="6.5" fill="#000" />
<rect x="208.8" y="1084.3" width="4.4" height="6.5" fill="#000" />
<rect x="215.0" y="1101.3" width="4.4" height="6.5" fill="#000" />
<rect x="221.9" y="1118.4" width="4.4" height="6.5" fill="#000" />
<rect x="227.8" y="1135.9" width="4.4" height="6.5" fill="#000" />
<rect x="233.7" y="1152.5" width="4.4" height="6.5" fill="#000" />
<rect x="271.2" y="1170.9" width="4.4" height="6.5" fill="#000" />
<rect x="303.0" y="1191.2" width="4.4" height="6.5" fill="#000" />
<rect x="321.8" y="1216.1" width="4.4" height="6.5" fill="#000" />
<rect x="328.0" y="1241.0" width="4.4" height="6.5" fill="#000" />
<rect x="339.9" y="1265.9" width="4.4" height="6.5" fill="#000" />
<rect x="315.5" y="1191.2" width="4.4" height="6.5" fill="#000" />
<rect x="346.7" y="1265.9" width="4.4" height="6.5" fill="#000" />
<rect x="402.9" y="1265.9" width="4.4" height="6.5" fill="#000" />
<rect x="483.5" y="1265.9" width="4.4" height="6.5" fill="#000" />
<rect x="515.3" y="1265.9" width="4.4" height="6.5" fill="#000" />
<rect x="533.4" y="1265.9" width="4.4" height="6.5" fill="#000" />
<line x1="410.2" y1="949.7" x2="444.5" y2="949.7" stroke="#0040ff" stroke-width="3.3" stroke-linecap="round" />
<rect x="425.5" y="943.5" width="4.3" height="6.0" fill="#000" />
<line x1="410.1" y1="997.5" x2="444.2" y2="997.5" stroke="#8c2390" stroke-width="5.3" stroke-linecap="round" />
<rect x="425.3" y="991.3" width="4.3" height="6.3" fill="#000" />
<text transform="translate(465.5,961.4) scale(1,1.03)" font-size="26.8" text-anchor="start" >TFF3 (Low)</text>
<text transform="translate(464.9,1008.2) scale(1,1.03)" font-size="26.8" text-anchor="start" >TFF3 (High)</text>
<text x="720.6" y="779.0" font-size="34.4" text-anchor="start" font-weight="bold" >E. qPCR</text>
<line x1="864.0" y1="895.7" x2="864.0" y2="1129.4" stroke="#000" stroke-width="3.2" stroke-linecap="butt" />
<line x1="864.0" y1="1154.8" x2="864.0" y2="1397.4" stroke="#000" stroke-width="3.2" stroke-linecap="butt" />
<line x1="862.5" y1="1395.9" x2="1258.5" y2="1395.9" stroke="#000" stroke-width="3.2" stroke-linecap="butt" />
<line x1="856.5" y1="1127.9" x2="864.0" y2="1127.9" stroke="#000" stroke-width="3" stroke-linecap="butt" />
<text x="853.6" y="1137.7" font-size="28.5" text-anchor="end" >50</text>
<line x1="856.5" y1="1051.0" x2="864.0" y2="1051.0" stroke="#000" stroke-width="3" stroke-linecap="butt" />
<text x="853.6" y="1060.8" font-size="28.5" text-anchor="end" >3050</text>
<line x1="856.5" y1="974.1" x2="864.0" y2="974.1" stroke="#000" stroke-width="3" stroke-linecap="butt" />
<text x="853.6" y="983.9" font-size="28.5" text-anchor="end" >6050</text>
<line x1="856.5" y1="897.2" x2="864.0" y2="897.2" stroke="#000" stroke-width="3" stroke-linecap="butt" />
<text x="853.6" y="907.0" font-size="28.5" text-anchor="end" >9050</text>
<line x1="864.0" y1="1127.9" x2="869.5" y2="1127.9" stroke="#000" stroke-width="3" stroke-linecap="butt" />
<line x1="864.0" y1="1156.3" x2="869.5" y2="1156.3" stroke="#000" stroke-width="3" stroke-linecap="butt" />
<line x1="856.0" y1="1395.9" x2="864.0" y2="1395.9" stroke="#000" stroke-width="3" stroke-linecap="butt" />
<text x="853.6" y="1405.7" font-size="28.5" text-anchor="end" >0</text>
<line x1="856.0" y1="1336.0" x2="864.0" y2="1336.0" stroke="#000" stroke-width="3" stroke-linecap="butt" />
<text x="853.6" y="1345.8" font-size="28.5" text-anchor="end" >5</text>
<line x1="856.0" y1="1276.1" x2="864.0" y2="1276.1" stroke="#000" stroke-width="3" stroke-linecap="butt" />
<text x="853.6" y="1285.9" font-size="28.5" text-anchor="end" >10</text>
<line x1="856.0" y1="1216.2" x2="864.0" y2="1216.2" stroke="#000" stroke-width="3" stroke-linecap="butt" />
<text x="853.6" y="1226.0" font-size="28.5" text-anchor="end" >15</text>
<line x1="856.0" y1="1156.3" x2="864.0" y2="1156.3" stroke="#000" stroke-width="3" stroke-linecap="butt" />
<text x="853.6" y="1166.1" font-size="28.5" text-anchor="end" >20</text>
<line x1="903.3" y1="1395.9" x2="903.3" y2="1406.5" stroke="#000" stroke-width="3" stroke-linecap="butt" />
<line x1="982.1" y1="1395.9" x2="982.1" y2="1406.5" stroke="#000" stroke-width="3" stroke-linecap="butt" />
<line x1="1060.6" y1="1395.9" x2="1060.6" y2="1406.5" stroke="#000" stroke-width="3" stroke-linecap="butt" />
<line x1="1139.8" y1="1395.9" x2="1139.8" y2="1406.5" stroke="#000" stroke-width="3" stroke-linecap="butt" />
<line x1="1218.3" y1="1395.9" x2="1218.3" y2="1406.5" stroke="#000" stroke-width="3" stroke-linecap="butt" />
<rect x="878.5" y="1388.4" width="51.0" height="7.5" fill="#fff" stroke="#000" stroke-width="3" />
<line x1="903.3" y1="1388.4" x2="903.3" y2="1383.9" stroke="#000" stroke-width="3" stroke-linecap="butt" />
<line x1="889.8" y1="1383.9" x2="916.9" y2="1383.9" stroke="#000" stroke-width="3" stroke-linecap="butt" />
<rect x="955.0" y="1333.5" width="54.2" height="62.4" fill="#000" rx="1.5"/>
<line x1="982.1" y1="1333.5" x2="982.1" y2="1327.4" stroke="#000" stroke-width="3" stroke-linecap="butt" />
<line x1="967.8" y1="1327.4" x2="996.1" y2="1327.4" stroke="#000" stroke-width="3" stroke-linecap="butt" />
<rect x="1033.6" y="1087.1" width="55.3" height="40.8" fill="#000" rx="1.5"/>
<rect x="1033.6" y="1155.7" width="55.3" height="240.2" fill="#000" rx="1.5"/>
<line x1="1047.0" y1="1085.4" x2="1074.3" y2="1085.4" stroke="#000" stroke-width="3" stroke-linecap="butt" />
<rect x="1112.6" y="1076.0" width="55.0" height="51.9" fill="#000" rx="1.5"/>
<rect x="1112.6" y="1155.7" width="55.0" height="240.2" fill="#000" rx="1.5"/>
<line x1="1125.7" y1="1074.7" x2="1154.0" y2="1074.7" stroke="#000" stroke-width="3" stroke-linecap="butt" />
<rect x="1191.1" y="973.1" width="55.6" height="154.8" fill="#000" rx="1.5"/>
<rect x="1191.1" y="1155.7" width="55.6" height="240.2" fill="#000" rx="1.5"/>
<line x1="1204.3" y1="971.1" x2="1232.9" y2="971.1" stroke="#000" stroke-width="3" stroke-linecap="butt" />
<text transform="translate(763.3,1360.5) rotate(-90) scale(1,1.1)" font-size="30.3" xml:space="preserve">Relative <tspan font-weight="bold" font-style="italic">TFF3</tspan> mRNA expression</text>
<path d="M900.3,888.2 L900.3,875.2 L1224.2,875.2 L1224.2,888.2" stroke="#111" stroke-width="2.8" fill="none" filter="url(#shadow)"/>
<text x="1051.2" y="870.1" font-size="25.5" text-anchor="middle" font-weight="bold" letter-spacing="1.8">***</text>
<path d="M900.3,926.8 L900.3,913.8 L1134.9,913.8 L1134.9,926.8" stroke="#111" stroke-width="2.8" fill="none" filter="url(#shadow)"/>
<text x="1009.7" y="909.0" font-size="25.5" text-anchor="middle" font-weight="bold" letter-spacing="1.8">***</text>
<path d="M900.3,964.8 L900.3,951.8 L1058.3,951.8 L1058.3,964.8" stroke="#111" stroke-width="2.8" fill="none" filter="url(#shadow)"/>
<text x="981.6" y="948.6" font-size="25.5" text-anchor="middle" font-weight="bold" letter-spacing="1.8">***</text>
<path d="M900.3,1001.3 L900.3,988.3 L974.8,988.3 L974.8,1001.3" stroke="#111" stroke-width="2.8" fill="none" filter="url(#shadow)"/>
<text x="942.1" y="989.5" font-size="25.5" text-anchor="middle" font-weight="bold" letter-spacing="1.8">**</text>
<text transform="translate(910.3,1430.0) rotate(-45)" font-size="30.7" text-anchor="end">HPDE6-C7</text>
<text transform="translate(989.1,1430.0) rotate(-45)" font-size="30.7" text-anchor="end">MiaPaCa-2</text>
<text transform="translate(1067.6,1430.0) rotate(-45)" font-size="30.7" text-anchor="end">Panc-1</text>
<text transform="translate(1146.8,1430.0) rotate(-45)" font-size="30.7" text-anchor="end">Capan-1</text>
<text transform="translate(1225.3,1430.0) rotate(-45)" font-size="30.7" text-anchor="end">SW1990</text>
<text x="1345.9" y="779.0" font-size="34.4" text-anchor="start" font-weight="bold" >F. ELISA</text>
<line x1="1519.2" y1="884.9" x2="1519.2" y2="1393.9" stroke="#000" stroke-width="3.2" stroke-linecap="butt" />
<line x1="1517.7" y1="1392.4" x2="1942.7" y2="1392.4" stroke="#000" stroke-width="3.2" stroke-linecap="butt" />
<line x1="1509.9" y1="1392.4" x2="1519.2" y2="1392.4" stroke="#000" stroke-width="3" stroke-linecap="butt" />
<text x="1506.6" y="1402.2" font-size="28.5" text-anchor="end" >0</text>
<line x1="1509.9" y1="1265.9" x2="1519.2" y2="1265.9" stroke="#000" stroke-width="3" stroke-linecap="butt" />
<text x="1506.6" y="1275.7" font-size="28.5" text-anchor="end" >100</text>
<line x1="1509.9" y1="1139.4" x2="1519.2" y2="1139.4" stroke="#000" stroke-width="3" stroke-linecap="butt" />
<text x="1506.6" y="1149.2" font-size="28.5" text-anchor="end" >200</text>
<line x1="1509.9" y1="1012.9" x2="1519.2" y2="1012.9" stroke="#000" stroke-width="3" stroke-linecap="butt" />
<text x="1506.6" y="1022.7" font-size="28.5" text-anchor="end" >300</text>
<line x1="1509.9" y1="886.4" x2="1519.2" y2="886.4" stroke="#000" stroke-width="3" stroke-linecap="butt" />
<text x="1506.6" y="896.2" font-size="28.5" text-anchor="end" >400</text>
<line x1="1560.9" y1="1392.4" x2="1560.9" y2="1401.8" stroke="#000" stroke-width="3" stroke-linecap="butt" />
<line x1="1645.1" y1="1392.4" x2="1645.1" y2="1401.8" stroke="#000" stroke-width="3" stroke-linecap="butt" />
<line x1="1729.8" y1="1392.4" x2="1729.8" y2="1401.8" stroke="#000" stroke-width="3" stroke-linecap="butt" />
<line x1="1815.2" y1="1392.4" x2="1815.2" y2="1401.8" stroke="#000" stroke-width="3" stroke-linecap="butt" />
<line x1="1899.9" y1="1392.4" x2="1899.9" y2="1401.8" stroke="#000" stroke-width="3" stroke-linecap="butt" />
<rect x="1531.0" y="1390.0" width="60.0" height="2.4" fill="#000" rx="1.5"/>
<rect x="1615.9" y="1364.3" width="60.1" height="28.1" fill="#000" rx="1.5"/>
<line x1="1646.0" y1="1364.3" x2="1646.0" y2="1354.5" stroke="#000" stroke-width="3" stroke-linecap="butt" />
<line x1="1630.4" y1="1354.5" x2="1660.3" y2="1354.5" stroke="#000" stroke-width="3" stroke-linecap="butt" />
<rect x="1700.1" y="1207.6" width="60.8" height="184.8" fill="#000" rx="1.5"/>
<line x1="1730.5" y1="1207.6" x2="1730.5" y2="1145.6" stroke="#000" stroke-width="3" stroke-linecap="butt" />
<line x1="1715.0" y1="1145.6" x2="1745.7" y2="1145.6" stroke="#000" stroke-width="3" stroke-linecap="butt" />
<rect x="1784.8" y="1169.5" width="60.8" height="222.9" fill="#000" rx="1.5"/>
<line x1="1815.2" y1="1169.5" x2="1815.2" y2="1122.9" stroke="#000" stroke-width="3" stroke-linecap="butt" />
<line x1="1800.0" y1="1122.9" x2="1830.4" y2="1122.9" stroke="#000" stroke-width="3" stroke-linecap="butt" />
<rect x="1869.4" y="1024.6" width="60.9" height="367.8" fill="#000" rx="1.5"/>
<line x1="1899.8" y1="1024.6" x2="1899.8" y2="998.9" stroke="#000" stroke-width="3" stroke-linecap="butt" />
<line x1="1885.3" y1="998.9" x2="1914.3" y2="998.9" stroke="#000" stroke-width="3" stroke-linecap="butt" />
<text transform="translate(1422.6,1236.8) rotate(-90) scale(1,1.06)" font-size="32" >TFF3 (pg/mL)</text>
<path d="M1560.8,892.1 L1560.8,879.1 L1900.2,879.1 L1900.2,892.1" stroke="#111" stroke-width="2.8" fill="none" filter="url(#shadow)"/>
<text x="1730.1" y="873.9" font-size="25.5" text-anchor="middle" font-weight="bold" letter-spacing="1.8">***</text>
<path d="M1560.8,930.1 L1560.8,917.1 L1817.9,917.1 L1817.9,930.1" stroke="#111" stroke-width="2.8" fill="none" filter="url(#shadow)"/>
<text x="1691.5" y="915.0" font-size="25.5" text-anchor="middle" font-weight="bold" letter-spacing="1.8">***</text>
<path d="M1560.8,970.5 L1560.8,957.5 L1727.4,957.5 L1727.4,970.5" stroke="#111" stroke-width="2.8" fill="none" filter="url(#shadow)"/>
<text x="1646.6" y="953.6" font-size="25.5" text-anchor="middle" font-weight="bold" letter-spacing="1.8">***</text>
<path d="M1560.8,1007.2 L1560.8,994.2 L1643.6,994.2 L1643.6,1007.2" stroke="#111" stroke-width="2.8" fill="none" filter="url(#shadow)"/>
<text x="1603.4" y="993.4" font-size="25.5" text-anchor="middle" font-weight="bold" letter-spacing="1.8">**</text>
<text transform="translate(1570.8,1425.3) rotate(-45)" font-size="31.5" text-anchor="end">HPDE6-C7</text>
<text transform="translate(1655.0,1425.3) rotate(-45)" font-size="31.5" text-anchor="end">MiaPaCa-2</text>
<text transform="translate(1739.7,1425.3) rotate(-45)" font-size="31.5" text-anchor="end">Panc-1</text>
<text transform="translate(1825.1,1425.3) rotate(-45)" font-size="31.5" text-anchor="end">Capan-1</text>
<text transform="translate(1909.8,1425.3) rotate(-45)" font-size="31.5" text-anchor="end">SW1990</text>
</svg>
</body></html>
